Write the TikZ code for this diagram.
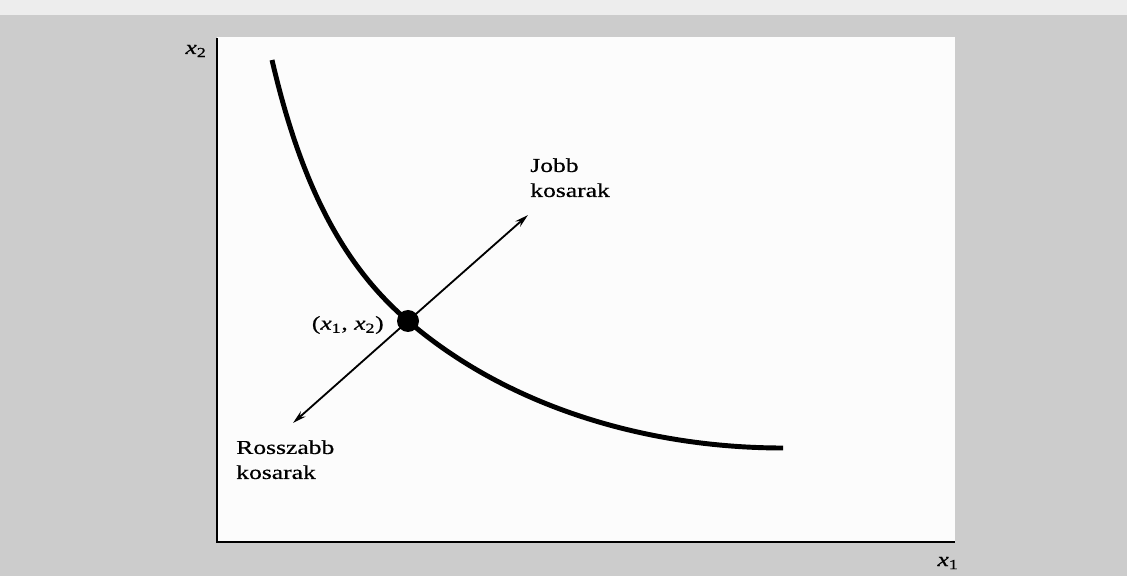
\documentclass[tikz,border=0pt]{standalone}
\usepackage{fontspec}
\setmainfont{Liberation Serif}[FakeStretch=1.3,FakeBold=0.5]
\usetikzlibrary{arrows.meta}
\definecolor{scangray}{gray}{0.80}
\definecolor{scanlight}{gray}{0.93}
\definecolor{panelwhite}{gray}{0.99}
\tikzset{
  axisline/.style={line width=1.6pt},
  indiff/.style={line width=3.5pt},
  dirarrow/.style={line width=1.3pt,-{Stealth[length=3.4mm,width=1.8mm]}},
  lbl/.style={font=\fontsize{14}{17.8}\selectfont,align=left,inner sep=0pt},
}
\begin{document}
\begin{tikzpicture}[x=0.25mm,y=0.25mm]
\fill[scangray] (-217,-34) rectangle (910,542);
\fill[scanlight] (-217,527) rectangle (910,542);
\fill[panelwhite] (0,0) rectangle (738,505);
\useasboundingbox (-217,-34) rectangle (910,542);
% axes
\draw[axisline] (0,504) -- (0,0) -- (738,0);
\node[lbl] (xtwo) at (-21,491) {\textit{x}\textsubscript{2}};
\node[lbl] (xone) at (731,-21) {\textit{x}\textsubscript{1}};
% indifference curve through the bundle
\draw[indiff,line cap=butt] plot[domain=55:191,samples=60] (\x,{10.86+515.88/((\x+54.5)/100)})
  .. controls (291,135) and (430,94) .. (566,94);
\node[circle,fill=black,minimum size=5.5mm,inner sep=0pt] (bundle) at (191,221) {};
\node[lbl,anchor=east] (bundlelbl) at (167,217) {(\textit{x}\textsubscript{1}, \textit{x}\textsubscript{2})};
% better and worse directions
\coordinate (better) at (311,327);
\coordinate (worse) at (76,119);
\draw[dirarrow] (bundle.center) -- (better);
\draw[dirarrow] (bundle.center) -- (worse);
\node[lbl,anchor=north west] (betterlbl) at (313,384) {Jobb\\kosarak};
\node[lbl,anchor=north west] (worselbl) at (19,102) {Rosszabb\\kosarak};
\end{tikzpicture}
\end{document}
